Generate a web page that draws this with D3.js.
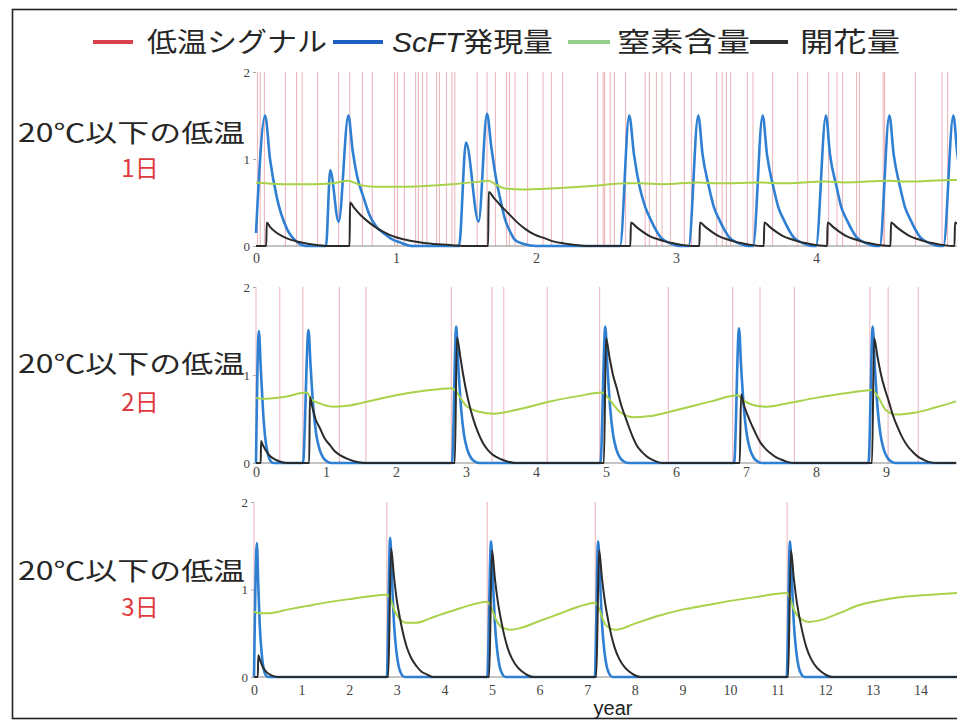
<!DOCTYPE html>
<html><head><meta charset="utf-8">
<script src="https://cdn.jsdelivr.net/npm/d3@7"></script>
<style>
html,body{margin:0;padding:0;background:#fff;}
svg{display:block;}
</style></head>
<body>
<svg id="chart" width="957" height="725"></svg>
<script>
// ---------------- DATA ----------------
const legendLabels = ["低温シグナル", "ScFT発現量", "窒素含量", "開花量"];
const panelLabels = ["20℃以下の低温", "20℃以下の低温", "20℃以下の低温"];
const panelDays = ["1日", "2日", "3日"];
const yTicks = [0, 1, 2];
const xTicks1 = [0, 1, 2, 3, 4];
const xTicks2 = [0, 1, 2, 3, 4, 5, 6, 7, 8, 9];
const xTicks3 = [0, 1, 2, 3, 4, 5, 6, 7, 8, 9, 10, 11, 12, 13, 14];
const xAxisTitle = "year";

// Panel 1 (1 day below 20°C)
const signal1 = [0.01,0.03,0.06,0.21,0.29,0.33,0.44,0.59,0.67,0.76,0.83,0.99,1.01,1.06,1.14,1.16,1.19,1.22,1.29,1.31,1.36,1.40,1.42,1.58,1.65,1.71,1.79,1.81,1.85,1.94,2.05,2.11,2.19,2.44,2.48,2.49,2.53,2.56,2.64,2.78,2.81,2.86,2.90,2.96,3.06,3.11,3.29,3.33,3.36,3.39,3.51,3.55,3.69,3.87,3.94,4.09,4.15,4.19,4.29,4.31,4.48,4.49,4.71,4.90,4.94];
const scft1 = [[0,0.15],[0.065,1.5],[0.1,1.0],[0.15,0.55],[0.22,0.2],[0.29,0.05],[0.36,0],
 [0.5,0],[0.53,0.87],[0.59,0.28],[0.66,1.5],[0.69,1.1],[0.72,0.82],[0.77,0.55],[0.81,0.36],[0.86,0.22],[0.91,0.15],[0.97,0.08],[1.03,0.04],[1.12,0],
 [1.45,0],[1.5,1.19],[1.59,0.28],[1.65,1.52],[1.68,1.15],[1.71,0.82],[1.75,0.5],[1.78,0.3],[1.82,0.15],[1.85,0.07],[1.92,0.02],[2.0,0],
 [2.60,0],[2.666,1.5],[2.70,1.05],[2.74,0.68],[2.78,0.45],[2.82,0.3],[2.89,0.1],[2.96,0.03],[3.03,0],
 [3.09,0],[3.159,1.5],[3.19,1.05],[3.235,0.68],[3.27,0.45],[3.31,0.3],[3.38,0.1],[3.45,0.03],[3.52,0],
 [3.55,0],[3.619,1.5],[3.65,1.05],[3.695,0.68],[3.73,0.45],[3.77,0.3],[3.84,0.1],[3.91,0.03],[3.98,0],
 [4.00,0],[4.071,1.5],[4.10,1.05],[4.147,0.68],[4.18,0.45],[4.22,0.3],[4.29,0.1],[4.36,0.03],[4.43,0],
 [4.455,0],[4.524,1.5],[4.555,1.05],[4.60,0.68],[4.635,0.45],[4.675,0.3],[4.745,0.1],[4.815,0.03],[4.885,0],
 [4.91,0],[4.981,1.5],[5.01,1.05],[5.06,0.68]];
const nitrogen1 = [[0,0.73],[0.07,0.72],[0.2,0.71],[0.4,0.71],[0.55,0.72],[0.66,0.75],[0.7,0.73],[0.75,0.7],[0.85,0.68],[1.0,0.68],[1.2,0.69],[1.4,0.71],[1.6,0.74],[1.66,0.75],[1.72,0.7],[1.78,0.66],[1.9,0.65],[2.1,0.66],[2.4,0.69],[2.66,0.72],[2.75,0.72],[2.9,0.71],[3.16,0.73],[3.3,0.72],[3.62,0.73],[3.75,0.72],[4.07,0.74],[4.2,0.73],[4.52,0.75],[4.65,0.74],[4.98,0.76],[5.05,0.76]];
const flower1 = [[0,0],[0.073,0],[0.077,0.27],[0.1,0.22],[0.14,0.16],[0.19,0.11],[0.25,0.07],[0.31,0.045],[0.37,0.025],[0.43,0.012],[0.5,0],
 [0.668,0],[0.672,0.5],[0.7,0.44],[0.75,0.35],[0.8,0.28],[0.85,0.22],[0.9,0.17],[0.95,0.13],[1.0,0.1],[1.1,0.06],[1.2,0.035],[1.3,0.02],[1.4,0.01],[1.5,0],
 [1.658,0],[1.662,0.62],[1.7,0.55],[1.75,0.46],[1.8,0.38],[1.86,0.28],[1.92,0.2],[1.99,0.13],[2.06,0.09],[2.13,0.05],[2.2,0.03],[2.3,0.01],[2.4,0],
 [2.674,0],[2.678,0.27],[2.716,0.22],[2.766,0.16],[2.816,0.11],[2.866,0.08],[2.926,0.05],[2.986,0.03],[3.056,0.01],[3.126,0],
 [3.167,0],[3.171,0.27],[3.209,0.22],[3.259,0.16],[3.309,0.11],[3.359,0.08],[3.419,0.05],[3.479,0.03],[3.549,0.01],[3.619,0],
 [3.627,0],[3.631,0.27],[3.669,0.22],[3.719,0.16],[3.769,0.11],[3.819,0.08],[3.879,0.05],[3.939,0.03],[4.009,0.01],[4.077,0],
 [4.079,0],[4.083,0.27],[4.121,0.22],[4.171,0.16],[4.221,0.11],[4.271,0.08],[4.331,0.05],[4.391,0.03],[4.461,0.01],[4.529,0],
 [4.532,0],[4.536,0.27],[4.574,0.22],[4.624,0.16],[4.674,0.11],[4.724,0.08],[4.784,0.05],[4.844,0.03],[4.914,0.01],[4.984,0],
 [4.989,0],[4.993,0.27],[5.03,0.22]];

// Panel 2 (2 days below 20°C)
const signal2 = [0.0,0.34,0.67,1.19,1.57,2.79,3.37,3.54,4.16,4.91,5.89,6.81,7.2,7.69,8.77,9.03,9.46];
const scft2 = [[0,0],[0.04,1.5],[0.07,1.05],[0.1,0.6],[0.13,0.3],[0.17,0.1],[0.21,0.02],[0.25,0],
 [0.67,0],[0.75,1.51],[0.78,1.1],[0.82,0.62],[0.86,0.33],[0.91,0.15],[0.96,0.06],[1.03,0.01],[1.08,0],
 [2.8,0],[2.86,1.55],[2.89,1.1],[2.93,0.62],[2.97,0.33],[3.02,0.15],[3.07,0.06],[3.14,0.01],[3.19,0],
 [4.92,0],[4.99,1.55],[5.02,1.1],[5.06,0.62],[5.1,0.33],[5.15,0.15],[5.2,0.06],[5.27,0.01],[5.32,0],
 [6.83,0],[6.9,1.53],[6.93,1.1],[6.97,0.62],[7.01,0.33],[7.06,0.15],[7.11,0.06],[7.18,0.01],[7.23,0],
 [8.75,0],[8.81,1.55],[8.84,1.1],[8.88,0.62],[8.92,0.33],[8.97,0.15],[9.02,0.06],[9.09,0.01],[9.14,0],[10,0]];
const nitrogen2 = [[0,0.74],[0.1,0.73],[0.4,0.75],[0.72,0.8],[0.8,0.72],[0.9,0.68],[1.1,0.64],[1.3,0.65],[1.6,0.7],[2.0,0.77],[2.4,0.82],[2.8,0.85],[2.87,0.8],[3.0,0.65],[3.2,0.58],[3.4,0.56],[3.8,0.62],[4.2,0.7],[4.6,0.76],[4.95,0.8],[5.05,0.72],[5.2,0.58],[5.4,0.52],[5.6,0.53],[6.0,0.6],[6.5,0.7],[6.88,0.77],[6.95,0.72],[7.1,0.66],[7.3,0.64],[7.6,0.68],[8.0,0.74],[8.5,0.8],[8.8,0.83],[8.88,0.76],[9.0,0.6],[9.15,0.55],[9.4,0.57],[9.7,0.63],[10.0,0.7]];
const flower2 = [[0,0],[0.068,0],[0.072,0.25],[0.1,0.2],[0.15,0.13],[0.2,0.08],[0.27,0.04],[0.35,0.015],[0.45,0],
 [0.76,0],[0.77,0.75],[0.8,0.65],[0.85,0.5],[0.91,0.4],[0.98,0.28],[1.06,0.2],[1.13,0.13],[1.2,0.09],[1.3,0.05],[1.4,0.02],[1.55,0],
 [2.84,0],[2.87,1.43],[2.92,1.2],[2.96,1.0],[3.03,0.72],[3.1,0.51],[3.17,0.35],[3.24,0.23],[3.31,0.15],[3.39,0.09],[3.48,0.05],[3.58,0.02],[3.7,0],
 [4.97,0],[5.0,1.42],[5.05,1.2],[5.1,1.0],[5.15,0.86],[5.22,0.65],[5.3,0.47],[5.37,0.32],[5.44,0.2],[5.52,0.12],[5.59,0.07],[5.68,0.03],[5.8,0],
 [6.91,0],[6.93,0.78],[6.97,0.66],[7.02,0.55],[7.06,0.47],[7.13,0.35],[7.2,0.24],[7.28,0.16],[7.35,0.11],[7.42,0.07],[7.5,0.04],[7.6,0.01],[7.7,0],
 [8.8,0],[8.83,1.42],[8.88,1.2],[8.93,1.0],[8.98,0.85],[9.04,0.7],[9.1,0.54],[9.17,0.4],[9.24,0.28],[9.31,0.19],[9.39,0.12],[9.46,0.07],[9.53,0.04],[9.62,0.01],[9.75,0],[10,0]];

// Panel 3 (3 days below 20°C)
const signal3 = [0.0,2.79,4.9,7.17,11.2];
const scft3 = [[0,0],[0.06,1.53],[0.09,1.05],[0.12,0.6],[0.16,0.28],[0.2,0.1],[0.25,0.02],[0.3,0],
 [2.79,0],[2.86,1.59],[2.9,1.1],[2.94,0.62],[2.99,0.3],[3.04,0.12],[3.1,0.03],[3.16,0],
 [4.9,0],[4.98,1.55],[5.02,1.1],[5.06,0.62],[5.11,0.3],[5.16,0.12],[5.22,0.03],[5.28,0],
 [7.16,0],[7.23,1.55],[7.27,1.1],[7.31,0.62],[7.36,0.3],[7.41,0.12],[7.47,0.03],[7.53,0],
 [11.19,0],[11.26,1.55],[11.3,1.1],[11.34,0.62],[11.39,0.3],[11.44,0.12],[11.5,0.03],[11.56,0],[15,0]];
const nitrogen3 = [[0,0.75],[0.1,0.73],[0.33,0.73],[0.7,0.77],[1.1,0.81],[1.5,0.85],[2.0,0.89],[2.4,0.92],[2.79,0.94],[2.86,0.9],[2.95,0.76],[3.05,0.67],[3.2,0.62],[3.4,0.62],[3.7,0.67],[3.9,0.71],[4.3,0.78],[4.6,0.83],[4.9,0.86],[4.98,0.8],[5.08,0.66],[5.2,0.57],[5.4,0.54],[5.6,0.56],[6.0,0.64],[6.4,0.72],[6.8,0.8],[7.17,0.85],[7.25,0.78],[7.35,0.63],[7.5,0.55],[7.6,0.54],[8.0,0.61],[8.5,0.7],[9.0,0.77],[9.5,0.82],[10.0,0.87],[10.5,0.91],[11.2,0.96],[11.26,0.9],[11.35,0.76],[11.5,0.66],[11.65,0.63],[11.9,0.65],[12.3,0.73],[12.7,0.82],[13.2,0.88],[13.7,0.92],[14.2,0.94],[14.8,0.96]];
const flower3 = [[0,0],[0.08,0],[0.09,0.25],[0.13,0.19],[0.18,0.12],[0.24,0.07],[0.3,0.04],[0.38,0.015],[0.5,0],
 [2.82,0],[2.88,1.47],[2.94,1.15],[3.0,0.88],[3.07,0.66],[3.14,0.48],[3.21,0.34],[3.3,0.22],[3.42,0.12],[3.52,0.06],[3.63,0.03],[3.75,0],
 [4.94,0],[5.0,1.45],[5.06,1.13],[5.12,0.87],[5.19,0.65],[5.26,0.47],[5.33,0.33],[5.42,0.21],[5.54,0.11],[5.64,0.06],[5.75,0.02],[5.87,0],
 [7.19,0],[7.25,1.45],[7.31,1.13],[7.37,0.87],[7.44,0.65],[7.51,0.47],[7.58,0.33],[7.67,0.21],[7.79,0.11],[7.89,0.06],[8.0,0.02],[8.12,0],
 [11.22,0],[11.28,1.45],[11.34,1.13],[11.4,0.87],[11.47,0.65],[11.54,0.47],[11.61,0.33],[11.7,0.21],[11.82,0.11],[11.92,0.06],[12.03,0.02],[12.15,0],[15,0]];

// ---------------- LAYOUT / STYLE ----------------
const colors = {signal:"#eaaab2", scft:"#2f7fd3", nitrogen:"#a8d24a", flower:"#2b2b2b"};
const legendColors = ["#d8404e", "#1f5fbf", "#93cf8b", "#2e2e2e"];
const panels = [
  {signal:signal1, scft:scft1, nitrogen:nitrogen1, flower:flower1, xTicks:xTicks1, xMax:5,  x0:256, x1:956, yTop:72,  yBot:246, tickDy:13, labelY:133, dayY:168},
  {signal:signal2, scft:scft2, nitrogen:nitrogen2, flower:flower2, xTicks:xTicks2, xMax:10, x0:256, x1:956, yTop:287, yBot:463, tickDy:10, labelY:364, dayY:402},
  {signal:signal3, scft:scft3, nitrogen:nitrogen3, flower:flower3, xTicks:xTicks3, xMax:15, x0:254, x1:968, yTop:502, yBot:677, tickDy:14, labelY:571, dayY:607}
];

const svg = d3.select("#chart");
svg.append("rect").attr("x",0).attr("y",0).attr("width",957).attr("height",725).attr("fill","#fff");
// frame
svg.append("rect").attr("x",12.5).attr("y",9.5).attr("width",1000).attr("height",709)
   .attr("fill","none").attr("stroke","#222").attr("stroke-width",1.6);

// legend
const legendItems = [
  {dx0:93, dx1:133, tx:147, tl:180},
  {dx0:333, dx1:383, tx:392, tl:161},
  {dx0:568, dx1:610, tx:617, tl:133},
  {dx0:750, dx1:788, tx:800, tl:100}
];
const legY = 42;
legendItems.forEach((it,i)=>{
  svg.append("line").attr("x1",it.dx0).attr("x2",it.dx1).attr("y1",legY).attr("y2",legY)
     .attr("stroke",legendColors[i]).attr("stroke-width",4);
  const t = svg.append("text").attr("x",it.tx).attr("y",legY+10)
     .attr("font-family","'Noto Sans CJK JP', sans-serif").attr("font-size",27).attr("fill","#262626")
     .attr("textLength",it.tl).attr("lengthAdjust","spacingAndGlyphs");
  if (i===1) {
    t.append("tspan").attr("font-style","italic").attr("font-family","'Liberation Sans', Arial, sans-serif").text(legendLabels[i].slice(0,4));
    t.append("tspan").text(legendLabels[i].slice(4));
  } else {
    t.text(legendLabels[i]);
  }
});

const defs = svg.append("defs");
panels.forEach((p,pi)=>{
  const x = d3.scaleLinear().domain([0,p.xMax]).range([p.x0,p.x1]);
  const y = d3.scaleLinear().domain([0,2]).range([p.yBot,p.yTop]);
  const clipId = "clip"+pi;
  defs.append("clipPath").attr("id",clipId).append("rect")
     .attr("x",p.x0-2).attr("y",p.yTop-2).attr("width",957-p.x0+2).attr("height",p.yBot-p.yTop+4);
  const g = svg.append("g").attr("clip-path",`url(#${clipId})`);

  // low temperature signal
  g.selectAll("line.sig").data(p.signal).join("line").attr("class","sig")
    .attr("x1",d=>x(d)).attr("x2",d=>x(d)).attr("y1",y(2)).attr("y2",y(0))
    .attr("stroke",colors.signal).attr("stroke-width",1).attr("opacity",0.9);

  // baseline
  g.append("line").attr("x1",p.x0).attr("x2",957).attr("y1",y(0)).attr("y2",y(0))
    .attr("stroke","#888").attr("stroke-width",1);

  const lineSmooth = d3.line().x(d=>x(d[0])).y(d=>y(d[1])).curve(d3.curveMonotoneX);

  g.append("path").datum(p.scft).attr("d",lineSmooth).attr("fill","none")
    .attr("stroke",colors.scft).attr("stroke-width",2.6).attr("stroke-linejoin","round");
  g.append("path").datum(p.nitrogen).attr("d",lineSmooth).attr("fill","none")
    .attr("stroke",colors.nitrogen).attr("stroke-width",2);
  g.append("path").datum(p.flower).attr("d",lineSmooth).attr("fill","none")
    .attr("stroke",colors.flower).attr("stroke-width",2).attr("stroke-linejoin","round");

  // y ticks
  const ya = d3.axisLeft(y).tickValues(yTicks).tickSize(3).tickPadding(3).tickFormat(d3.format("d"));
  const yg = svg.append("g").attr("transform",`translate(${p.x0},0)`).call(ya);
  yg.select(".domain").remove();
  yg.selectAll("line").attr("stroke","#aaa");
  yg.selectAll("text").attr("font-family","'Liberation Serif', 'DejaVu Serif', serif").attr("font-size",13).attr("fill","#444");

  // x ticks
  const xa = d3.axisBottom(x).tickValues(p.xTicks).tickSize(0).tickPadding(p.tickDy-6).tickFormat(d3.format("d"));
  const xg = svg.append("g").attr("transform",`translate(0,${p.yBot})`).call(xa);
  xg.select(".domain").remove();
  xg.selectAll("text").attr("font-family","'Liberation Serif', 'DejaVu Serif', serif").attr("font-size",14).attr("fill","#444");

  // left labels
  svg.append("text").attr("x",18).attr("y",p.labelY+9)
    .attr("font-family","'Noto Sans CJK JP', sans-serif").attr("font-size",25).attr("fill","#262626")
    .attr("textLength",227).attr("lengthAdjust","spacingAndGlyphs").text(panelLabels[pi]);
  svg.append("text").attr("x",140).attr("y",p.dayY+9).attr("text-anchor","middle")
    .attr("font-family","'Noto Sans CJK JP', sans-serif").attr("font-size",24).attr("fill","#e0393f")
    .text(panelDays[pi]);
});

svg.append("text").attr("x",613).attr("y",715).attr("text-anchor","middle")
  .attr("font-family","'Liberation Sans', Arial, sans-serif").attr("font-size",20).attr("fill","#222")
  .text(xAxisTitle);
</script>
</body></html>
